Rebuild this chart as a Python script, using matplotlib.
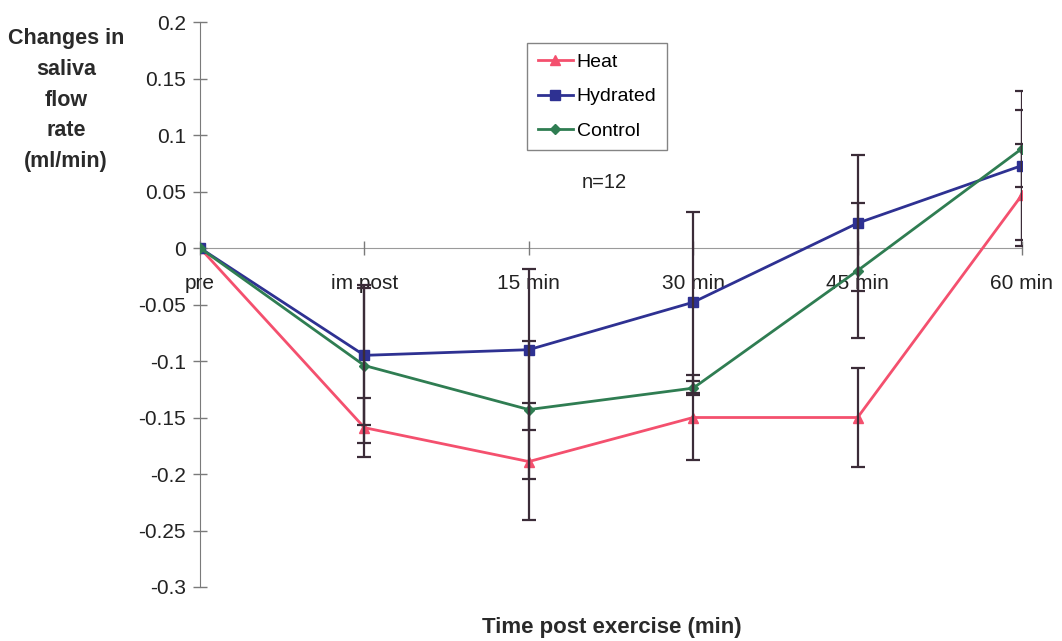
import matplotlib.pyplot as plt
import numpy as np

plt.rcParams['font.family'] = ['Liberation Sans', 'DejaVu Sans']

times = ['pre', 'im post', '15 min', '30 min', '45 min', '60 min']

heat = [0, -0.159, -0.189, -0.150, -0.150, 0.047]
heat_err = [0, 0.026, 0.052, 0.038, 0.044, 0.045]

hydrated = [0, -0.095, -0.090, -0.048, 0.022, 0.073]
hydrated_err = [0, 0.062, 0.071, 0.080, 0.060, 0.066]

control = [0, -0.104, -0.143, -0.124, -0.020, 0.088]
control_err = [0, 0.069, 0.061, 0.006, 0.060, 0.034]

x = np.arange(len(times))

fig = plt.figure(figsize=(10.62, 6.41), dpi=100)
ax = fig.add_axes([200/1062, 1-587/641, 822/1062, 565/641])

ax.plot(x, heat, color='#f4506e', marker='^', markersize=7, lw=2, label='Heat', zorder=3)
ax.plot(x, hydrated, color='#2e3192', marker='s', markersize=6.5, lw=2, label='Hydrated', zorder=3)
ax.plot(x, control, color='#2f7d52', marker='D', markersize=5.5, lw=2, label='Control', zorder=3)

ebar = dict(fmt='none', ecolor='#3b2c38', elinewidth=1.6, capsize=5, capthick=1.6, zorder=4)
ax.errorbar(x[1:], heat[1:], yerr=heat_err[1:], **ebar)
ax.errorbar(x[1:], hydrated[1:], yerr=hydrated_err[1:], **ebar)
ax.errorbar(x[1:], control[1:], yerr=control_err[1:], **ebar)

ax.set_xlim(0, 5)
ax.set_ylim(-0.3, 0.2)
ax.set_yticks(np.arange(-0.3, 0.201, 0.05))
ax.set_yticklabels(['-0.3', '-0.25', '-0.2', '-0.15', '-0.1', '-0.05', '0', '0.05', '0.1', '0.15', '0.2'])
ax.set_xticks(x)
ax.set_xticklabels(times)

for s in ['top', 'right']:
    ax.spines[s].set_visible(False)
ax.spines['bottom'].set_position(('data', 0))
ax.spines['bottom'].set_color('#9a9a9a')
ax.spines['left'].set_color('#7a7a7a')
ax.spines['left'].set_zorder(1)
ax.spines['bottom'].set_zorder(1)
ax.tick_params(axis='y', direction='inout', length=10, width=1, color='#7a7a7a',
               labelsize=15, labelcolor='#222222', pad=5)
ax.tick_params(axis='x', direction='inout', length=10, width=1, color='#7a7a7a',
               labelsize=15, labelcolor='#222222', pad=14)

fig.text(66/1062, 1-100/641, 'Changes in\nsaliva\nflow\nrate\n(ml/min)', ha='center', va='center',
         fontsize=15.5, fontweight='bold', color='#2a2a2a', linespacing=1.6)
fig.text(612/1062, 1-628/641, 'Time post exercise (min)', ha='center', va='center',
         fontsize=16, fontweight='bold', color='#2a2a2a')

leg = ax.legend(loc='upper left', bbox_to_anchor=((527-200)/822, (587-43)/565), fontsize=14,
                frameon=True, fancybox=False, handlelength=1.8, handletextpad=0.2,
                borderpad=0.55, labelspacing=0.85, borderaxespad=0)
leg.get_frame().set_edgecolor('#666666')
leg.get_frame().set_linewidth(1)

ax.text((604-200)/822, (587-182)/565, 'n=12', transform=ax.transAxes, ha='center', va='center',
        fontsize=14.5, color='#222222')

fig.savefig('out.png', dpi=100)
